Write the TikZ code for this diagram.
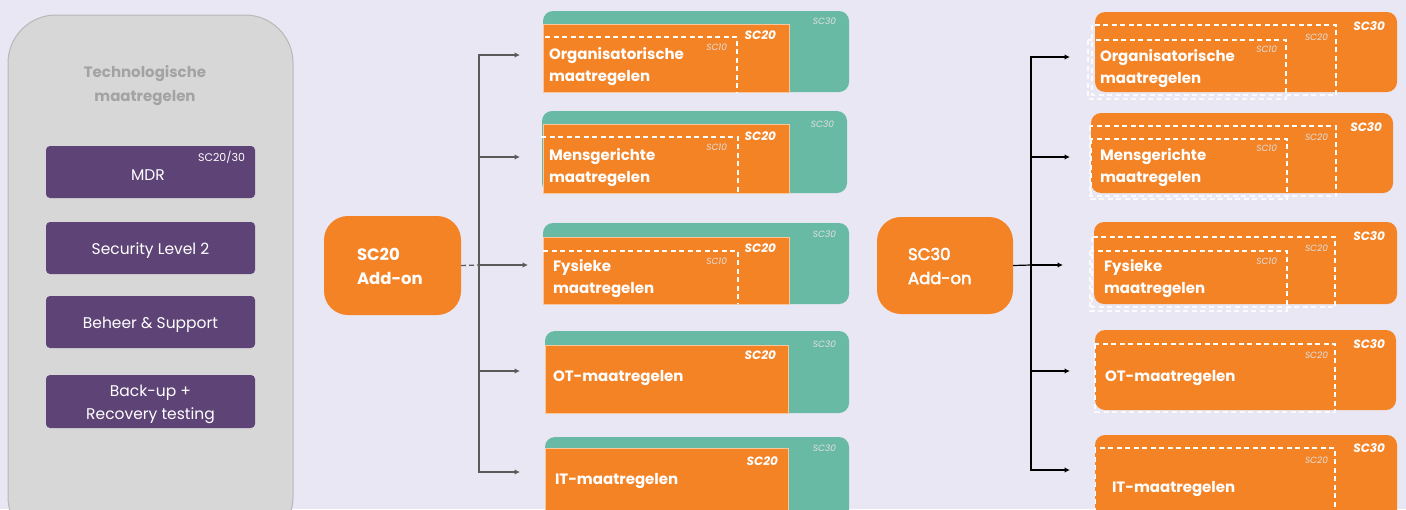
\documentclass[tikz,border=0pt]{standalone}
\usepackage{fontspec}
\setmainfont{Poppins}
\newfontfamily\medfont[FakeBold=3]{Poppins}
\usetikzlibrary{arrows.meta}
\definecolor{bgc}{HTML}{E9E7F4}
\definecolor{panelc}{HTML}{D7D7D7}
\definecolor{panelb}{HTML}{B8B8B8}
\definecolor{titlec}{HTML}{A3A3A3}
\definecolor{purp}{HTML}{5E4476}
\definecolor{orng}{HTML}{F48326}
\definecolor{tealc}{HTML}{69BAA4}
\definecolor{linec}{HTML}{5A5A5A}
\begin{document}
\begin{tikzpicture}[x=1pt,y=-1pt,
  every node/.style={inner sep=0pt, outer sep=0pt},
  panel/.style={fill=panelc, draw=panelb, line width=1pt, rounded corners=48pt},
  purbox/.style={fill=purp, rounded corners=4pt},
  purtxt/.style={text=white, font=\fontsize{15.5}{23}\selectfont, align=center},
  tealbox/.style={fill=tealc, rounded corners=10pt},
  orbox/.style={fill=orng, draw=orng!45!white, line width=0.8pt},
  obox/.style={fill=orng, rounded corners=10pt},
  addon/.style={fill=orng, rounded corners=24pt},
  wdash/.style={draw=white, line width=1.3pt, dash pattern=on 5pt off 3.5pt},
  fdash/.style={draw=white!80!bgc, line width=1.1pt, dash pattern=on 5pt off 3.5pt},
  lbl/.style={text=white, font=\fontsize{15}{22}\selectfont\bfseries, align=left, anchor=west},
  big/.style={text=white, font=\fontsize{12}{12}\selectfont\bfseries\itshape, anchor=east},
  small/.style={text=white!88!black, font=\fontsize{9}{9}\selectfont\itshape, anchor=east},
  arr/.style={-{Latex[length=5.5pt,width=5.5pt]}, line width=1.3pt, draw=linec},
  arrb/.style={-{Latex[length=5.5pt,width=5.5pt]}, line width=1.2pt, draw=black}]
\useasboundingbox (0,0) rectangle (1406,509);
\clip (0,0) rectangle (1406,509);
\fill[bgc] (0,0) rectangle (1406,509);

% left panel
\node[panel, minimum width=285pt, minimum height=530pt] (panel) at (150.5,280) {};
\node[text=titlec, font=\fontsize{15}{24}\selectfont\bfseries, align=center] (title) at (145,86) {Technologische\\maatregelen};
\node[purbox, minimum width=209pt, minimum height=52pt] (mdr) at (150.5,172) {};
\node[purtxt] (mdrt) at (148,175) {MDR};
\node[text=white, font=\fontsize{11}{11}\selectfont, anchor=east] (mdrsc) at (245,157) {SC20/30};
\node[purbox, minimum width=209pt, minimum height=52pt] (sec) at (150.5,248) {};
\node[purtxt] (sect) at (150.5,250.5) {Security Level 2};
\node[purbox, minimum width=209pt, minimum height=52pt] (beh) at (150.5,322) {};
\node[purtxt] (beht) at (150.5,324.5) {Beheer \& Support};
\node[purbox, minimum width=209pt, minimum height=53pt] (bak) at (150.5,401.5) {};
\node[purtxt] (bakt) at (150.5,404) {Back-up +\\Recovery testing};

% SC20 add-on
\node[addon, minimum width=137pt, minimum height=99pt] (a20) at (392.5,265.5) {};
\node[text=white, font=\fontsize{16.5}{24}\selectfont\bfseries, align=left, anchor=west] (a20t) at (357,266) {SC20\\Add-on};

% left rows
\node[tealbox, minimum width=306pt, minimum height=81pt] (t1) at (696,51.5) {};
\node[orbox, minimum width=246pt, minimum height=68pt] (o1) at (666,58) {};
\draw[wdash] (545,37) -| (737,92);
\node[lbl] (l1) at (549,67) {Organisatorische\\maatregelen};
\node[big] (s20a) at (776,35) {SC20};
\node[small] (s10a) at (727,47) {SC10};
\node[small] (s30a) at (836,21) {SC30};

\node[tealbox, minimum width=305pt, minimum height=82pt] (t2) at (694.5,152) {};
\node[orbox, minimum width=246pt, minimum height=69pt] (o2) at (666,158.5) {};
\draw[wdash] (541,137) -| (738,193);
\node[lbl] (l2) at (549,167.5) {Mensgerichte\\maatregelen};
\node[big] (s20b) at (776,136) {SC20};
\node[small] (s10b) at (727,147) {SC10};
\node[small] (s30b) at (834,124) {SC30};

\node[tealbox, minimum width=306pt, minimum height=81pt] (t3) at (696,263.5) {};
\node[orbox, minimum width=246pt, minimum height=67pt] (o3) at (666,270.5) {};
\draw[wdash] (543,251) -| (738,304);
\node[lbl] (l3) at (553,279) {Fysieke\\maatregelen};
\node[big] (s20c) at (776,248) {SC20};
\node[small] (s10c) at (727,261) {SC10};
\node[small] (s30c) at (836,234) {SC30};

\node[tealbox, minimum width=304pt, minimum height=82pt] (t4) at (697,372) {};
\node[orbox, minimum width=243pt, minimum height=68pt] (o4) at (666.5,379) {};
\node[lbl] (l4) at (553,378) {OT-maatregelen};
\node[big] (s20d) at (776,355) {SC20};
\node[small] (s30d) at (836,344) {SC30};

\node[tealbox, minimum width=304pt, minimum height=93pt] (t5) at (697,483.5) {};
\node[orbox, minimum width=243pt, minimum height=82pt] (o5) at (666.5,489) {};
\node[lbl] (l5) at (555,481) {IT-maatregelen};
\node[big] (s20e) at (778,461) {SC20};
\node[small] (s30e) at (836,448) {SC30};

% SC20 connectors
\coordinate (j20) at (479,265);
\coordinate (b1) at (520,55);
\coordinate (b2) at (520,157);
\coordinate (b3) at (528,265);
\coordinate (b4) at (520,371);
\coordinate (b5) at (520,472);
\draw[linec, line width=1.3pt, dash pattern=on 5pt off 3pt] (a20.east) -- (j20);
\draw[arr] (j20) |- (b1);
\draw[arr] (j20) |- (b2);
\draw[arr] (j20) -- (b3);
\draw[arr] (j20) |- (b4);
\draw[arr] (j20) |- (b5);

% SC30 add-on
\node[addon, minimum width=136pt, minimum height=97pt] (a30) at (945,265.5) {};
\node[text=white, font=\fontsize{16.5}{24}\medfont, align=left, anchor=west] (a30t) at (908,266) {SC30\\Add-on};

\coordinate (j30) at (1031,265);
\coordinate (c1) at (1070,57);
\coordinate (c2) at (1070,157);
\coordinate (c3) at (1063,265);
\coordinate (c4) at (1070,371);
\coordinate (c5) at (1070,470);
\draw[black, line width=1.2pt] (a30.east) -- (j30);
\draw[arrb] (j30) |- (c1);
\draw[arrb] (j30) |- (c2);
\draw[arrb] (j30) -- (c3);
\draw[arrb] (j30) |- (c4);
\draw[arrb] (j30) |- (c5);

% right rows
\node[obox, minimum width=302pt, minimum height=80pt] (r1) at (1246,52) {};
\draw[fdash] (1092,25) rectangle (1336,95);
\draw[fdash] (1088,40) rectangle (1286,99);
\begin{scope}
\clip[rounded corners=10pt] (1095,12) rectangle (1397,92);
\draw[wdash] (1092,25) rectangle (1336,95);
\draw[wdash] (1088,40) rectangle (1286,99);
\end{scope}
\node[lbl] (q1) at (1100,68.5) {Organisatorische\\maatregelen};
\node[big] (u30a) at (1385,26) {SC30};
\node[small] (u20a) at (1328,37) {SC20};
\node[small] (u10a) at (1277,49) {SC10};

\node[obox, minimum width=302pt, minimum height=80pt] (r2) at (1242,153) {};
\draw[fdash] (1090,126) rectangle (1336,196);
\draw[fdash] (1091,139) rectangle (1287,199);
\begin{scope}
\clip[rounded corners=10pt] (1091,113) rectangle (1393,193);
\draw[wdash] (1090,126) rectangle (1336,196);
\draw[wdash] (1091,139) rectangle (1287,199);
\end{scope}
\node[lbl] (q2) at (1100,167.5) {Mensgerichte\\maatregelen};
\node[big] (u30b) at (1382,127) {SC30};
\node[small] (u20b) at (1328,137) {SC20};
\node[small] (u10b) at (1277,148) {SC10};

\node[obox, minimum width=303pt, minimum height=82pt] (r3) at (1245.5,263) {};
\draw[fdash] (1092,237) rectangle (1335,307);
\draw[fdash] (1090,251) rectangle (1287,311);
\begin{scope}
\clip[rounded corners=10pt] (1094,222) rectangle (1397,304);
\draw[wdash] (1092,237) rectangle (1335,307);
\draw[wdash] (1090,251) rectangle (1287,311);
\end{scope}
\node[lbl] (q3) at (1104,279) {Fysieke\\maatregelen};
\node[big] (u30c) at (1385,236) {SC30};
\node[small] (u20c) at (1328,248) {SC20};
\node[small] (u10c) at (1277,261) {SC10};

\node[obox, minimum width=301pt, minimum height=80pt] (r4) at (1245.5,370) {};
\draw[fdash] (1095,344) rectangle (1335,412);
\begin{scope}
\clip[rounded corners=10pt] (1095,330) rectangle (1396,410);
\draw[wdash] (1095,344) rectangle (1335,412);
\end{scope}
\node[lbl] (q4) at (1105,378) {OT-maatregelen};
\node[big] (u30d) at (1385,344) {SC30};
\node[small] (u20d) at (1328,355) {SC20};

\node[obox, minimum width=302pt, minimum height=95pt] (r5) at (1246,482.5) {};
\begin{scope}
\clip[rounded corners=10pt] (1095,435) rectangle (1397,530);
\draw[wdash] (1095,448) rectangle (1335,540);
\end{scope}
\node[lbl] (q5) at (1112,489) {IT-maatregelen};
\node[big] (u30e) at (1385,448) {SC30};
\node[small] (u20e) at (1328,460) {SC20};
\end{tikzpicture}
\end{document}
